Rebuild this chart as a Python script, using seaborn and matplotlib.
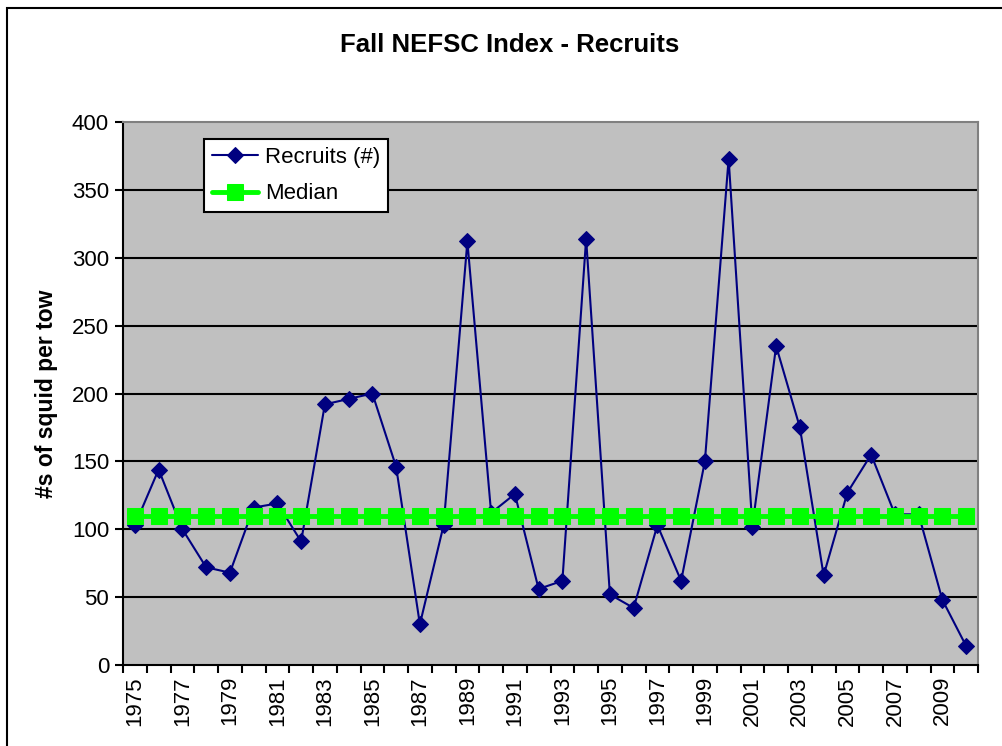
import numpy as np
import pandas as pd
import matplotlib
matplotlib.use("Agg")
import matplotlib.pyplot as plt
import seaborn as sns
from matplotlib.patches import Rectangle

# data
years = list(range(1975, 2011))
recruits = [103, 144, 100, 72, 68, 116, 119, 91, 192, 196,
            200, 146, 30, 103, 312, 112, 126, 56, 62, 314,
            52, 42, 103, 62, 150, 373, 102, 235, 175, 66,
            127, 155, 111, 111, 48, 14]
median_value = 110
y_ticks = [0, 50, 100, 150, 200, 250, 300, 350, 400]
x_tick_years = list(range(1975, 2010, 2))

df = pd.DataFrame({"Year": years, "Recruits (#)": recruits})
df["Median"] = median_value

sns.set_theme(style="ticks")
plt.rcParams["font.family"] = ["Liberation Sans", "DejaVu Sans"]
plt.rcParams["text.color"] = "black"
plt.rcParams["axes.labelcolor"] = "black"
plt.rcParams["xtick.color"] = "black"
plt.rcParams["ytick.color"] = "black"

fig = plt.figure(figsize=(10.03, 7.46), dpi=100)
ax = fig.add_axes([123 / 1003, 1 - 665 / 746, 855 / 1003, 543 / 746])
ax.set_facecolor("#C0C0C0")

# outer chart border
fig.patches.append(Rectangle((7 / 1003, -0.1), 1.2, 1 - 8 / 746 + 0.1,
                             transform=fig.transFigure, fill=False,
                             edgecolor="black", lw=1.5, zorder=0))

for yv in y_ticks[1:-1]:
    ax.axhline(yv, color="black", lw=1.5, zorder=1)

sns.lineplot(data=df, x="Year", y="Recruits (#)", ax=ax, color="#000080",
             marker="D", markersize=8, markeredgecolor="#000080", lw=1.5,
             label="Recruits (#)", zorder=3)
sns.lineplot(data=df, x="Year", y="Median", ax=ax, color="#00FF00",
             marker="s", markersize=11, markeredgecolor="#00FF00", lw=3.5,
             label="Median", zorder=4)

ax.set_xlim(1974.5, 2010.5)
ax.set_ylim(0, 400)
ax.set_yticks(y_ticks)
ax.set_xticks(x_tick_years)
ax.set_xticklabels([str(y) for y in x_tick_years], rotation=90)
ax.set_xticks(np.arange(1974.5, 2011, 1), minor=True)
ax.tick_params(axis="x", which="major", length=0, pad=8, labelsize=16)
ax.tick_params(axis="x", which="minor", length=6, width=1.5, color="black")
ax.tick_params(axis="y", length=6, width=1.5, color="black", labelsize=16, pad=4)

for side in ["left", "bottom"]:
    ax.spines[side].set_color("black")
    ax.spines[side].set_linewidth(1.5)
for side in ["top", "right"]:
    ax.spines[side].set_visible(True)
    ax.spines[side].set_color("#808080")
    ax.spines[side].set_linewidth(1.5)

ax.set_xlabel("")
ax.set_ylabel("#s of squid per tow", fontsize=16.5, fontweight="bold",
              labelpad=10, color="black")
fig.text(510 / 1003, 1 - 45 / 746, "Fall NEFSC Index - Recruits",
         ha="center", va="center", fontsize=18.5, fontweight="bold",
         color="black")

leg = ax.legend(loc="upper left", bbox_to_anchor=(81 / 855, 1 - 17 / 543),
                borderaxespad=0, fontsize=16, frameon=True, fancybox=False,
                handlelength=2.1, handletextpad=0.3, borderpad=0.35,
                labelspacing=0.7)
leg.get_frame().set_edgecolor("black")
leg.get_frame().set_facecolor("white")
leg.get_frame().set_linewidth(1.5)
leg.get_frame().set_alpha(1)
for t in leg.get_texts():
    t.set_color("black")

fig.savefig("out.png", dpi=100)
